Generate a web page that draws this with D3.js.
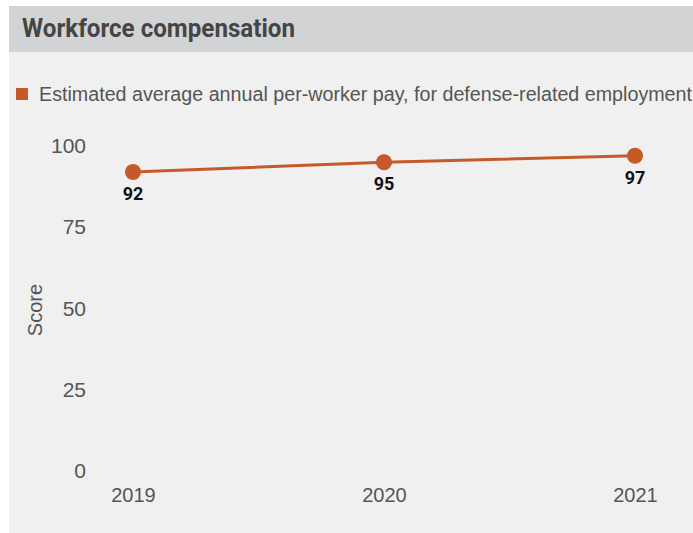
<!DOCTYPE html>
<html>
<head>
<meta charset="utf-8">
<script src="https://cdn.jsdelivr.net/npm/d3@7"></script>
<style>
  html, body { margin: 0; padding: 0; background: #ffffff; }
  svg { display: block; }
</style>
</head>
<body>
<svg id="chart" width="693" height="533"></svg>
<script>
// Chart data
const years = ["2019", "2020", "2021"];
const scores = [92, 95, 97];
const yTicks = [0, 25, 50, 75, 100];
const titleText = "Workforce compensation";
const legendText = "Estimated average annual per-worker pay, for defense-related employment";
const yAxisTitle = "Score";

const W = 693, H = 533;
const accent = "#c55a28";
const svg = d3.select("#chart");

// Panel: grey header band over a light body
svg.append("rect").attr("x", 9).attr("y", 6).attr("width", W - 9).attr("height", H - 6).attr("fill", "#f0f0f0");
svg.append("rect").attr("x", 9).attr("y", 6).attr("width", W - 9).attr("height", 46).attr("fill", "#d2d3d5");

svg.append("text")
  .attr("x", 22).attr("y", 37)
  .attr("font-family", "Roboto, 'Liberation Sans', sans-serif")
  .attr("font-weight", "bold")
  .attr("font-size", 26)
  .attr("textLength", 273)
  .attr("lengthAdjust", "spacingAndGlyphs")
  .attr("fill", "#454545")
  .text(titleText);

// Legend
svg.append("rect").attr("x", 16).attr("y", 88).attr("width", 12).attr("height", 12).attr("fill", accent);
svg.append("text")
  .attr("x", 39).attr("y", 101)
  .attr("font-family", "'Liberation Sans', Arial, sans-serif")
  .attr("font-size", 19.5)
  .attr("textLength", 653)
  .attr("lengthAdjust", "spacingAndGlyphs")
  .attr("fill", "#555555")
  .text(legendText);

// Scales
const x = d3.scalePoint().domain(years).range([133, 635]);
const y = d3.scaleLinear().domain([0, 100]).range([471, 146]);

// Y axis (labels only)
const yAxis = d3.axisLeft(y).tickValues(yTicks).tickSize(0).tickPadding(0);
const gy = svg.append("g").attr("transform", "translate(86,0)").call(yAxis);
gy.select(".domain").remove();
gy.selectAll("text")
  .attr("font-family", "'Liberation Sans', Arial, sans-serif")
  .attr("font-size", 21)
  .attr("fill", "#555555");

svg.append("text")
  .attr("transform", "translate(42,310) rotate(-90)")
  .attr("text-anchor", "middle")
  .attr("font-family", "'Liberation Sans', Arial, sans-serif")
  .attr("font-size", 20)
  .attr("fill", "#555555")
  .text(yAxisTitle);

// X axis (labels only)
const xAxis = d3.axisBottom(x).tickSize(0).tickPadding(0);
const gx = svg.append("g").attr("transform", "translate(0,488)").call(xAxis);
gx.select(".domain").remove();
gx.selectAll("text")
  .attr("dy", "0.71em")
  .attr("font-family", "'Liberation Sans', Arial, sans-serif")
  .attr("font-size", 20)
  .attr("fill", "#555555");

// Series line and points
const pts = years.map((yr, i) => ({ yr, v: scores[i] }));
const line = d3.line().x(d => x(d.yr)).y(d => y(d.v));
svg.append("path").datum(pts)
  .attr("d", line)
  .attr("fill", "none")
  .attr("stroke", accent)
  .attr("stroke-width", 3);

svg.selectAll("circle.pt").data(pts).join("circle")
  .attr("class", "pt")
  .attr("cx", d => x(d.yr)).attr("cy", d => y(d.v))
  .attr("r", 8)
  .attr("fill", accent);

svg.selectAll("text.val").data(pts).join("text")
  .attr("class", "val")
  .attr("x", d => x(d.yr)).attr("y", d => y(d.v) + 28)
  .attr("text-anchor", "middle")
  .attr("font-family", "Roboto, 'Liberation Sans', sans-serif")
  .attr("font-weight", "bold")
  .attr("font-size", 18)
  .attr("fill", "#111111")
  .text(d => d.v);
</script>
</body>
</html>
